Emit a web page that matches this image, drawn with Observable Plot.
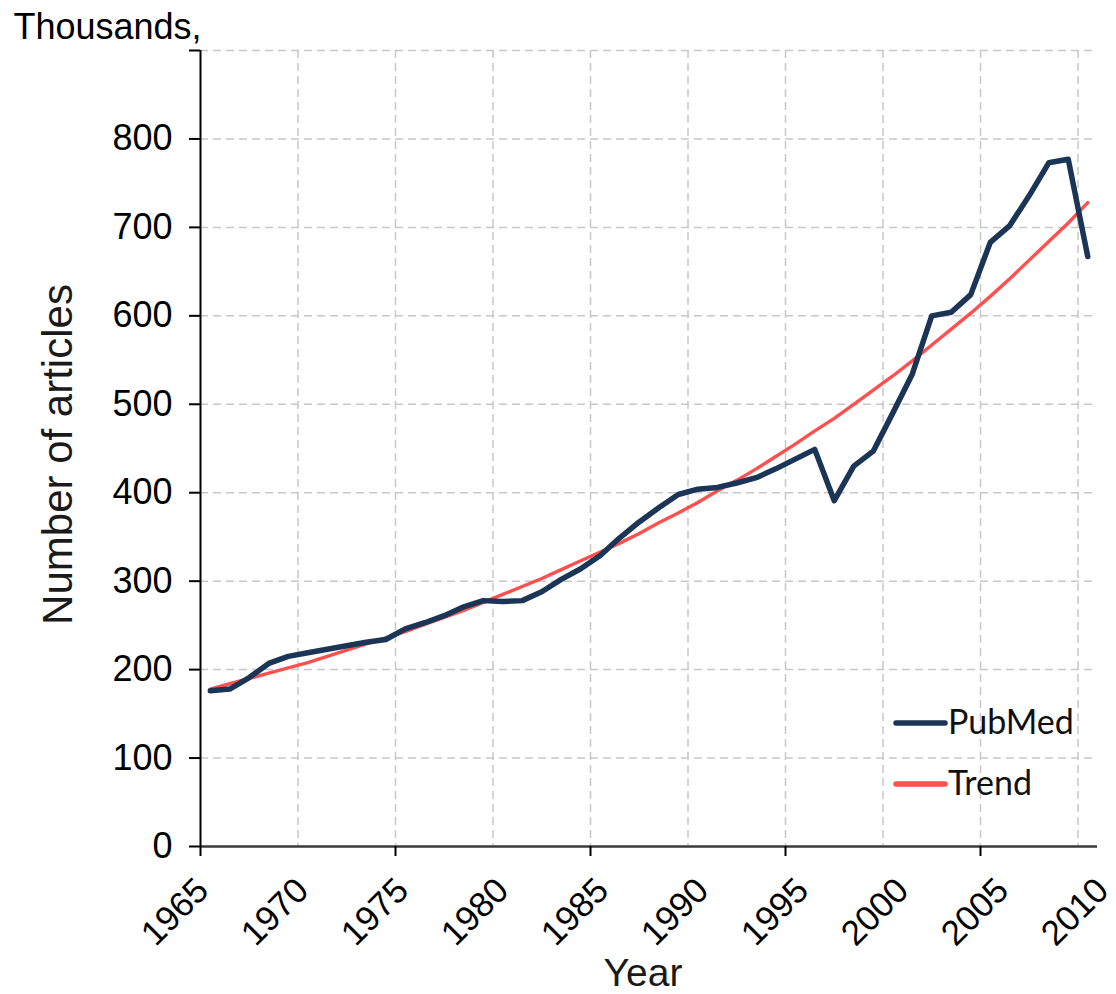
<!DOCTYPE html>
<html>
<head>
<meta charset="utf-8">
<script src="https://cdn.jsdelivr.net/npm/d3@7"></script>
<script src="https://cdn.jsdelivr.net/npm/@observablehq/plot@0.6"></script>
<style>
  body { margin: 0; background: #fff; }
  #wrap { position: relative; width: 1116px; height: 994px; overflow: hidden; }
</style>
</head>
<body>
<div id="wrap"></div>
<script>
// ---- data ----
const years = [1965,1966,1967,1968,1969,1970,1971,1972,1973,1974,
               1975,1976,1977,1978,1979,1980,1981,1982,1983,1984,
               1985,1986,1987,1988,1989,1990,1991,1992,1993,1994,
               1995,1996,1997,1998,1999,2000,2001,2002,2003,2004,
               2005,2006,2007,2008,2009,2010];
// PubMed articles per year, thousands
const pubmed = [176,178,191,207,215,219,223,227,231,234,
                246,253,261,271,278,277,278,288,302,314,
                329,349,367,383,398,404,406,411,417,427,
                438,449,391,430,447,490,534,600,604,624,
                683,702,736,773,777,667];
// Trend line (fitted curve), thousands
const trend = [178,184,190,196,202,208,215,222,229,236,
               243,251,259,267,276,285,294,303,313,323,
               333,343,354,366,377,389,402,414,427,441,
               455,470,484,500,516,532,549,567,585,603,
               622,642,663,684,705,728];

const seriesNames = ["PubMed", "Trend"];
const seriesColors = ["#1b3556", "#ff5050"];

const xDomain = [1965, 2011];
const yDomain = [0, 900];
const xLabelTicks = [1965,1970,1975,1980,1985,1990,1995,2000,2005,2010];
const xGridTicks = [1970,1975,1980,1985,1990,1995,2000,2005,2010];
const xMajorTicks = [1965,1975,1985,1995,2005];
const yTicks = [0,100,200,300,400,500,600,700,800,900];
const yTickLabels = ["0","100","200","300","400","500","600","700","800",""];
const yGridTicks = [100,200,300,400,500,600,700,800,900];

const pubRows = years.map((year, i) => ({year, value: pubmed[i]}));
const trendRows = years.map((year, i) => ({year, value: trend[i]}));

// rotated year labels are spread slightly wider than the tick spacing (as in the original)
const labelSpread = 0.0256;

const gridStyle = {stroke: "#c8c8c8", strokeOpacity: 1, strokeWidth: 1.5, strokeDasharray: "8,5"};
const font = "'Liberation Sans', Arial, sans-serif";

const chart = Plot.plot({
  width: 1116,
  height: 994,
  marginLeft: 200,
  marginRight: 19,
  marginTop: 50,
  marginBottom: 148,
  x: {domain: xDomain},
  y: {domain: yDomain},
  style: {fontFamily: font, fontSize: "36px", color: "#000", background: "#fff", overflow: "visible"},
  marks: [
    Plot.gridY(yGridTicks, gridStyle),
    Plot.gridX(xGridTicks, gridStyle),
    Plot.line(trendRows, {x: d => d.year + 0.5, y: "value", stroke: seriesColors[1], strokeWidth: 3.4}),
    Plot.line(pubRows, {x: d => d.year + 0.5, y: "value", stroke: seriesColors[0], strokeWidth: 5.5}),
    Plot.ruleY([yDomain[0]], {stroke: "#3a3a3a", strokeWidth: 2.5}),
    Plot.ruleX([xDomain[0]], {stroke: "#000", strokeWidth: 2}),
    Plot.axisY(yTicks, {
      tickSize: 11, tickPadding: 17, strokeWidth: 2, label: null, fontSize: 36,
      tickFormat: d => yTickLabels[yTicks.indexOf(d)]
    }),
    Plot.axisX(xMajorTicks, {tickSize: 10, strokeWidth: 2, label: null, tickFormat: () => ""}),
    Plot.text(xLabelTicks, {
      x: d => d + (d - xDomain[0]) * labelSpread, text: d => String(d),
      frameAnchor: "bottom", rotate: -45, textAnchor: "end",
      dx: 10, dy: 46, fontSize: 35, fill: "#000"
    }),
    Plot.text(["Thousands,"], {
      frameAnchor: "top-left", textAnchor: "start", lineAnchor: "bottom",
      dx: -187, dy: -12, fontSize: 36, fill: "#000"
    }),
    Plot.text(["Number of articles"], {
      frameAnchor: "left", textAnchor: "middle", rotate: -90, dx: -142, dy: 6, fontSize: 42, fill: "#1a1a1a"
    }),
    Plot.text(["Year"], {
      frameAnchor: "bottom", textAnchor: "middle", lineAnchor: "bottom", dx: -6, dy: 139, fontSize: 39, fill: "#1a1a1a"
    })
  ]
});

const wrap = document.getElementById("wrap");
wrap.appendChild(chart);

// legend overlay (inside the plot area, lower right)
const legend = d3.select(wrap).append("svg")
  .attr("width", 1116).attr("height", 994)
  .style("position", "absolute").style("left", "0px").style("top", "0px")
  .style("pointer-events", "none");
const rowY = [723, 784];
const lineW = [5.5, 5.5];
seriesNames.forEach((name, i) => {
  legend.append("line")
    .attr("x1", 896).attr("x2", 945)
    .attr("y1", rowY[i]).attr("y2", rowY[i])
    .attr("stroke", seriesColors[i]).attr("stroke-width", lineW[i])
    .attr("stroke-linecap", "round");
  legend.append("text")
    .attr("x", 948).attr("y", rowY[i] + 11)
    .attr("font-family", "Lato, 'Open Sans', sans-serif")
    .attr("font-size", 34)
    .attr("fill", "#111")
    .text(name);
});
</script>
</body>
</html>
